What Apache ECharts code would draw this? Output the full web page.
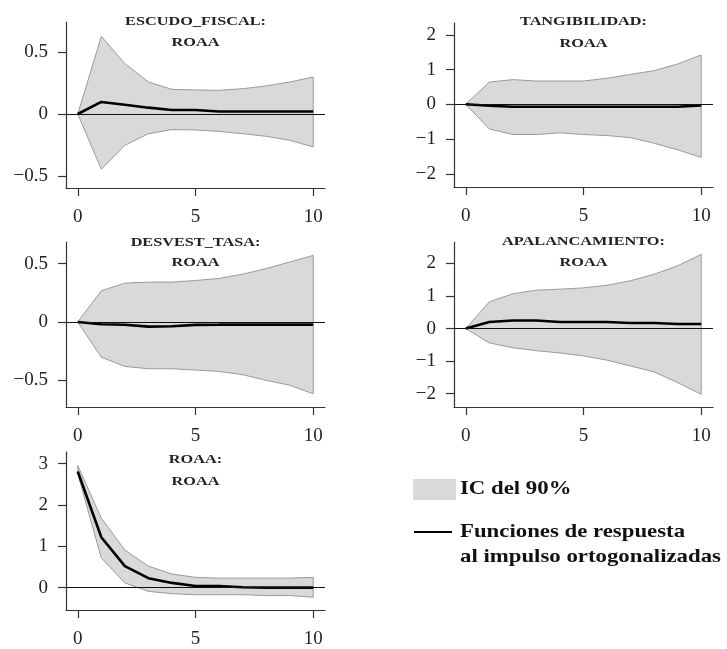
<!DOCTYPE html>
<html>
<head>
<meta charset="utf-8">
<script src="https://cdn.jsdelivr.net/npm/echarts@6/dist/echarts.min.js"></script>
<style>
  html, body { margin: 0; padding: 0; background: #ffffff; }
  #chart { width: 727px; height: 649px; }
</style>
</head>
<body>
<div id="chart"></div>
<script>
// Forecast horizon (steps)
const horizon = [0, 1, 2, 3, 4, 5, 6, 7, 8, 9, 10];
const xTicks = [0, 5, 10];

// ESCUDO_FISCAL -> ROAA
const escudoIrf   = [0, 0.097, 0.075, 0.051, 0.032, 0.032, 0.020, 0.020, 0.020, 0.020, 0.020];
const escudoUpper = [0, 0.626, 0.406, 0.258, 0.199, 0.194, 0.191, 0.204, 0.226, 0.258, 0.298];
const escudoLower = [0, -0.446, -0.253, -0.159, -0.126, -0.129, -0.140, -0.159, -0.180, -0.212, -0.266];

// TANGIBILIDAD -> ROAA
const tangIrf   = [0, -0.04, -0.07, -0.07, -0.07, -0.07, -0.07, -0.07, -0.07, -0.07, -0.03];
const tangUpper = [0, 0.64, 0.71, 0.67, 0.67, 0.67, 0.75, 0.86, 0.97, 1.16, 1.42];
const tangLower = [0, -0.71, -0.87, -0.87, -0.82, -0.87, -0.90, -0.96, -1.12, -1.31, -1.53];

// DESVEST_TASA -> ROAA
const desvIrf   = [0, -0.020, -0.023, -0.040, -0.037, -0.025, -0.023, -0.023, -0.023, -0.023, -0.023];
const desvUpper = [0, 0.268, 0.333, 0.342, 0.342, 0.356, 0.373, 0.410, 0.458, 0.514, 0.571];
const desvLower = [0, -0.302, -0.381, -0.401, -0.401, -0.412, -0.424, -0.452, -0.500, -0.542, -0.616];

// APALANCAMIENTO -> ROAA
const apalIrf   = [0, 0.20, 0.25, 0.25, 0.20, 0.20, 0.20, 0.17, 0.17, 0.14, 0.14];
const apalUpper = [0, 0.82, 1.07, 1.18, 1.21, 1.25, 1.33, 1.47, 1.67, 1.93, 2.28];
const apalLower = [0, -0.44, -0.59, -0.68, -0.75, -0.84, -0.97, -1.15, -1.33, -1.66, -2.02];

// ROAA -> ROAA
const roaaIrf   = [2.81, 1.22, 0.52, 0.23, 0.115, 0.04, 0.04, 0.01, 0, 0, 0];
const roaaUpper = [2.95, 1.68, 0.91, 0.52, 0.33, 0.25, 0.23, 0.23, 0.23, 0.23, 0.25];
const roaaLower = [2.75, 0.72, 0.115, -0.09, -0.146, -0.17, -0.17, -0.17, -0.19, -0.19, -0.23];

// Y tick labels
const ticksHalf = [-0.5, 0, 0.5];
const ticksTwo  = [-2, -1, 0, 1, 2];
const ticksRoaa = [0, 1, 2, 3];

const panelTitles = ['ESCUDO_FISCAL:', 'TANGIBILIDAD:', 'DESVEST_TASA:', 'APALANCAMIENTO:', 'ROAA:'];
const responseName = 'ROAA';
const legendBand = 'IC del 90%';
const legendLine = ['Funciones de respuesta', 'al impulso ortogonalizadas'];

const panels = [
  { irf: escudoIrf, upper: escudoUpper, lower: escudoLower, ticks: ticksHalf },
  { irf: tangIrf,   upper: tangUpper,   lower: tangLower,   ticks: ticksTwo },
  { irf: desvIrf,   upper: desvUpper,   lower: desvLower,   ticks: ticksHalf },
  { irf: apalIrf,   upper: apalUpper,   lower: apalLower,   ticks: ticksTwo },
  { irf: roaaIrf,   upper: roaaUpper,   lower: roaaLower,   ticks: ticksRoaa }
];

// Grid placement and axis extents for each small multiple
const layout = [
  { left: 66,  top: 22,  height: 166, yMin: -0.597, yMax: 0.742, cx: 195.5, t1: 21.7, t2: 43 },
  { left: 454, top: 23,  height: 164, yMin: -2.38,  yMax: 2.34,  cx: 583.5, t1: 22,   t2: 44 },
  { left: 66,  top: 242, height: 165, yMin: -0.729, yMax: 0.686, cx: 195.5, t1: 242.3, t2: 262.7 },
  { left: 454, top: 242, height: 165, yMin: -2.41,  yMax: 2.66,  cx: 583.5, t1: 241.7, t2: 262.7 },
  { left: 66,  top: 452, height: 166, yMin: -0.54,  yMax: 3.28,  cx: 195.5, t1: 460,  t2: 481.7 }
];

const SERIF = '"Liberation Serif", "DejaVu Serif", serif';
const AXIS_COLOR = '#333333';
const BAND_FILL = '#d9d9d9';
const BAND_EDGE = '#9a9a9a';
const TITLE_STRETCH = 1.25;   // wide small-caps look for panel headings
const LEGEND_STRETCH = 1.2;

function fmt(v) {
  const s = String(Math.round(v * 100) / 100);
  return s.replace('-', '\u2212');
}

const grids = [], xAxes = [], yAxes = [], series = [], graphics = [];

panels.forEach((p, i) => {
  const L = layout[i];
  grids.push({ left: L.left, top: L.top, width: 259, height: L.height, containLabel: false });

  xAxes.push({
    type: 'value', gridIndex: i, min: -0.5, max: 10.5, position: 'bottom',
    axisLine: { onZero: false, show: true, lineStyle: { color: AXIS_COLOR, width: 1.2 } },
    axisTick: { show: true, length: 8, customValues: xTicks, lineStyle: { color: AXIS_COLOR, width: 1.2 } },
    axisLabel: { customValues: xTicks, margin: 20, fontFamily: SERIF, fontSize: 19, color: '#222', formatter: fmt },
    splitLine: { show: false }
  });

  yAxes.push({
    type: 'value', gridIndex: i, min: L.yMin, max: L.yMax, position: 'left',
    axisLine: { onZero: false, show: true, lineStyle: { color: AXIS_COLOR, width: 1.2 } },
    axisTick: { show: true, length: 8, customValues: p.ticks, lineStyle: { color: AXIS_COLOR, width: 1.2 } },
    axisLabel: { customValues: p.ticks, margin: 18, fontFamily: SERIF, fontSize: 19, color: '#222', formatter: fmt },
    splitLine: { show: false }
  });

  // Confidence band as a closed polygon (upper edge then lower edge reversed)
  series.push({
    type: 'custom', xAxisIndex: i, yAxisIndex: i, silent: true, z: 1,
    data: [[0, 0]],
    renderItem: (params, api) => {
      const top = horizon.map((h, k) => api.coord([h, p.upper[k]]));
      const bottom = horizon.map((h, k) => api.coord([h, p.lower[k]])).reverse();
      return {
        type: 'polygon',
        shape: { points: top.concat(bottom) },
        style: { fill: BAND_FILL, stroke: BAND_EDGE, lineWidth: 1 }
      };
    }
  });

  // Orthogonalized impulse response
  series.push({
    type: 'line', xAxisIndex: i, yAxisIndex: i, silent: true, z: 3,
    data: horizon.map((h, k) => [h, p.irf[k]]),
    showSymbol: false, symbol: 'none',
    lineStyle: { color: '#000', width: 2.6 },
    markLine: {
      silent: true, symbol: 'none', label: { show: false },
      lineStyle: { color: '#111', width: 1, type: 'solid' },
      data: [{ yAxis: 0 }]
    }
  });

  graphics.push({
    type: 'text', x: L.cx, y: L.t1, scaleX: TITLE_STRETCH,
    style: { text: panelTitles[i], font: 'bold 13px ' + SERIF, fill: '#222', textAlign: 'center', textVerticalAlign: 'middle' }
  });
  graphics.push({
    type: 'text', x: L.cx, y: L.t2, scaleX: TITLE_STRETCH,
    style: { text: responseName, font: 'bold 13px ' + SERIF, fill: '#222', textAlign: 'center', textVerticalAlign: 'middle' }
  });
});

// Legend
graphics.push({ type: 'rect', shape: { x: 413, y: 479, width: 43, height: 21 }, style: { fill: BAND_FILL } });
graphics.push({ type: 'text', x: 460, y: 489.5, scaleX: LEGEND_STRETCH,
  style: { text: legendBand, font: 'bold 19px ' + SERIF, fill: '#111', textAlign: 'left', textVerticalAlign: 'middle' } });
graphics.push({ type: 'line', shape: { x1: 414, y1: 532, x2: 452, y2: 532 }, style: { stroke: '#000', lineWidth: 2 } });
graphics.push({ type: 'text', x: 460, y: 532, scaleX: LEGEND_STRETCH,
  style: { text: legendLine[0], font: 'bold 19px ' + SERIF, fill: '#111', textAlign: 'left', textVerticalAlign: 'middle' } });
graphics.push({ type: 'text', x: 460, y: 557, scaleX: LEGEND_STRETCH,
  style: { text: legendLine[1], font: 'bold 19px ' + SERIF, fill: '#111', textAlign: 'left', textVerticalAlign: 'middle' } });

const chart = echarts.init(document.getElementById('chart'), null, { renderer: 'canvas' });
chart.setOption({
  animation: false,
  backgroundColor: '#ffffff',
  grid: grids,
  xAxis: xAxes,
  yAxis: yAxes,
  series: series,
  graphic: graphics
});
</script>
</body>
</html>
